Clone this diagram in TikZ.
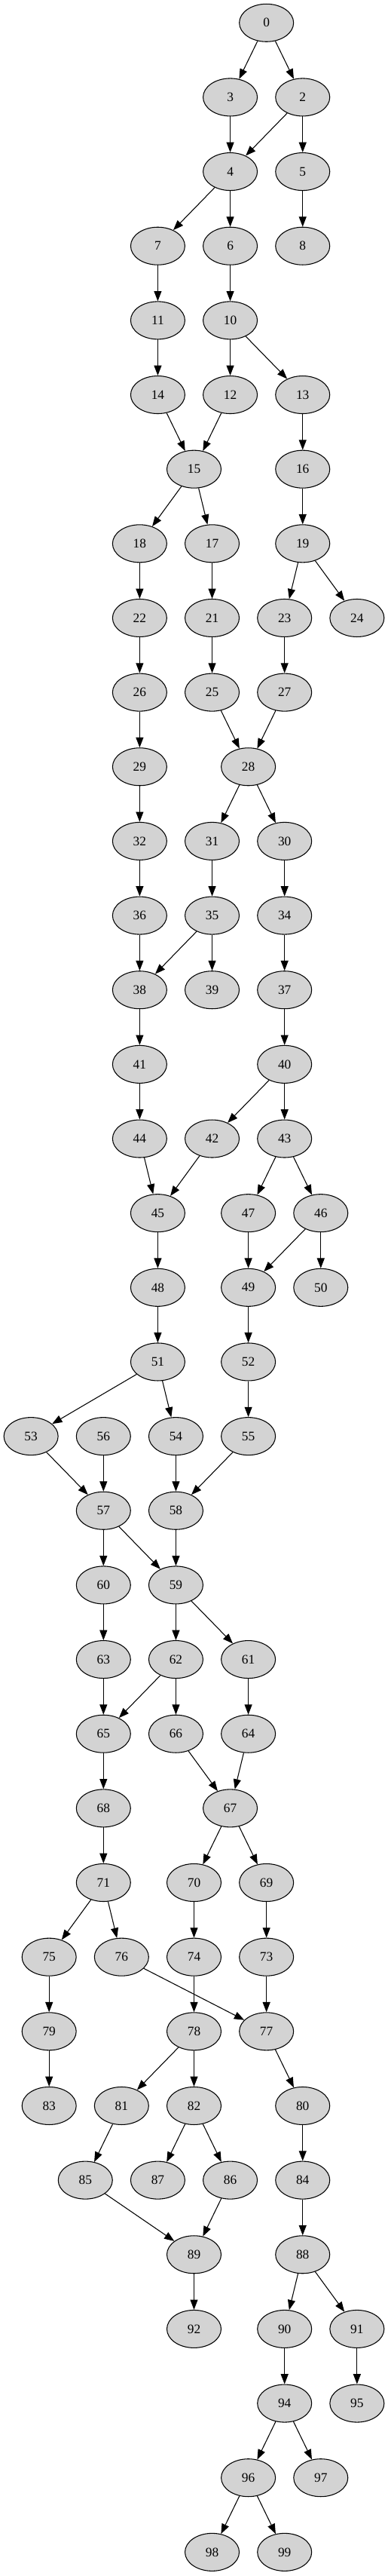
\documentclass[tikz,border=0pt]{standalone}
\usepackage{fontspec}
\setmainfont{Liberation Serif}
\usepackage{tikz}
\usetikzlibrary{arrows.meta}
\usetikzlibrary{shapes.geometric}
\definecolor{nodegray}{HTML}{D3D3D3}
\tikzset{
    state/.style={
           ellipse,
           draw=black, line width=0.8pt,
           fill=nodegray,
           minimum width=54pt,
           minimum height=37.5pt,
           inner sep=0pt,
           font=\fontsize{13}{15}\selectfont,
           text centered,
           },
}

\begin{document}
\begin{tikzpicture}[->,>={Triangle[length=10pt,width=7.5pt]},
                    line width=0.8pt, x=18.03pt, y=-73.99pt]

 % keep the margins of the reference
 \useasboundingbox (-1.712,-0.307) rectangle (19.711,34.321);

 % ranks 0 - 5
 \node[state] (N0) at (13,0) {0};
 \node[state] (N3) at (11,1) {3};
 \node[state] (N2) at (15,1) {2};
 \node[state] (N4) at (11,2) {4};
 \node[state] (N5) at (15,2) {5};
 \node[state] (N7) at (7,3) {7};
 \node[state] (N6) at (11,3) {6};
 \node[state] (N8) at (15,3) {8};
 \node[state] (N11) at (7,4) {11};
 \node[state] (N10) at (11,4) {10};
 \node[state] (N14) at (7,5) {14};
 \node[state] (N12) at (11,5) {12};
 \node[state] (N13) at (15,5) {13};

 % ranks 6 - 11
 \node[state] (N15) at (9,6) {15};
 \node[state] (N16) at (15,6) {16};
 \node[state] (N18) at (6,7) {18};
 \node[state] (N17) at (10,7) {17};
 \node[state] (N19) at (15,7) {19};
 \node[state] (N22) at (6,8) {22};
 \node[state] (N21) at (10,8) {21};
 \node[state] (N23) at (14,8) {23};
 \node[state] (N24) at (18,8) {24};
 \node[state] (N26) at (6,9) {26};
 \node[state] (N25) at (10,9) {25};
 \node[state] (N27) at (14,9) {27};
 \node[state] (N29) at (6,10) {29};
 \node[state] (N28) at (12,10) {28};
 \node[state] (N32) at (6,11) {32};
 \node[state] (N31) at (10,11) {31};
 \node[state] (N30) at (14,11) {30};

 % ranks 12 - 17
 \node[state] (N36) at (6,12) {36};
 \node[state] (N35) at (10,12) {35};
 \node[state] (N34) at (14,12) {34};
 \node[state] (N38) at (6,13) {38};
 \node[state] (N39) at (10,13) {39};
 \node[state] (N37) at (14,13) {37};
 \node[state] (N41) at (6,14) {41};
 \node[state] (N40) at (14,14) {40};
 \node[state] (N44) at (6,15) {44};
 \node[state] (N42) at (10,15) {42};
 \node[state] (N43) at (14,15) {43};
 \node[state] (N45) at (7,16) {45};
 \node[state] (N47) at (12,16) {47};
 \node[state] (N46) at (16,16) {46};
 \node[state] (N48) at (7,17) {48};
 \node[state] (N49) at (12,17) {49};
 \node[state] (N50) at (16,17) {50};

 % ranks 18 - 23
 \node[state] (N51) at (7,18) {51};
 \node[state] (N52) at (12,18) {52};
 \node[state] (N53) at (0,19) {53};
 \node[state] (N56) at (4,19) {56};
 \node[state] (N54) at (8,19) {54};
 \node[state] (N55) at (12,19) {55};
 \node[state] (N57) at (4,20) {57};
 \node[state] (N58) at (8,20) {58};
 \node[state] (N60) at (4,21) {60};
 \node[state] (N59) at (8,21) {59};
 \node[state] (N63) at (4,22) {63};
 \node[state] (N62) at (8,22) {62};
 \node[state] (N61) at (12,22) {61};
 \node[state] (N65) at (4,23) {65};
 \node[state] (N66) at (8,23) {66};
 \node[state] (N64) at (12,23) {64};

 % ranks 24 - 29
 \node[state] (N68) at (4,24) {68};
 \node[state] (N67) at (11,24) {67};
 \node[state] (N71) at (4,25) {71};
 \node[state] (N70) at (9,25) {70};
 \node[state] (N69) at (13,25) {69};
 \node[state] (N75) at (1,26) {75};
 \node[state] (N76) at (5,26) {76};
 \node[state] (N74) at (9,26) {74};
 \node[state] (N73) at (13,26) {73};
 \node[state] (N79) at (1,27) {79};
 \node[state] (N78) at (9,27) {78};
 \node[state] (N77) at (13,27) {77};
 \node[state] (N83) at (1,28) {83};
 \node[state] (N81) at (5,28) {81};
 \node[state] (N82) at (9,28) {82};
 \node[state] (N80) at (15,28) {80};
 \node[state] (N85) at (3,29) {85};
 \node[state] (N87) at (7,29) {87};
 \node[state] (N86) at (11,29) {86};
 \node[state] (N84) at (15,29) {84};

 % ranks 30 - 34
 \node[state] (N89) at (9,30) {89};
 \node[state] (N88) at (15,30) {88};
 \node[state] (N92) at (9,31) {92};
 \node[state] (N90) at (14,31) {90};
 \node[state] (N91) at (18,31) {91};
 \node[state] (N94) at (14,32) {94};
 \node[state] (N95) at (18,32) {95};
 \node[state] (N96) at (12,33) {96};
 \node[state] (N97) at (16,33) {97};
 \node[state] (N98) at (10,34) {98};
 \node[state] (N99) at (14,34) {99};

 % draw the paths
 \path (N0) edge (N3)  (N0) edge (N2)
 (N3) edge (N4)   (N2) edge (N4)   (N2) edge (N5)
 (N4) edge (N7)   (N4) edge (N6)   (N5) edge (N8)
 (N7) edge (N11)  (N6) edge (N10)
 (N11) edge (N14) (N10) edge (N12) (N10) edge (N13)
 (N14) edge (N15) (N12) edge (N15) (N13) edge (N16)
 (N15) edge (N18) (N15) edge (N17) (N16) edge (N19)
 (N18) edge (N22) (N17) edge (N21) (N19) edge (N23) (N19) edge (N24)
 (N22) edge (N26) (N21) edge (N25) (N23) edge (N27)
 (N26) edge (N29) (N25) edge (N28) (N27) edge (N28)
 (N29) edge (N32) (N28) edge (N31) (N28) edge (N30)
 (N32) edge (N36) (N31) edge (N35) (N30) edge (N34)
 (N36) edge (N38) (N35) edge (N38) (N35) edge (N39) (N34) edge (N37)
 (N38) edge (N41) (N37) edge (N40)
 (N41) edge (N44) (N40) edge (N42) (N40) edge (N43)
 (N44) edge (N45) (N42) edge (N45) (N43) edge (N47) (N43) edge (N46)
 (N45) edge (N48) (N47) edge (N49) (N46) edge (N49) (N46) edge (N50)
 (N48) edge (N51) (N49) edge (N52)
 (N51) edge (N53) (N51) edge (N54) (N52) edge (N55)
 (N53) edge (N57) (N56) edge (N57) (N54) edge (N58) (N55) edge (N58)
 (N57) edge (N60) (N57) edge (N59) (N58) edge (N59)
 (N60) edge (N63) (N59) edge (N62) (N59) edge (N61)
 (N63) edge (N65) (N62) edge (N65) (N62) edge (N66) (N61) edge (N64)
 (N65) edge (N68) (N66) edge (N67) (N64) edge (N67)
 (N68) edge (N71) (N67) edge (N70) (N67) edge (N69)
 (N71) edge (N75) (N71) edge (N76) (N70) edge (N74) (N69) edge (N73)
 (N75) edge (N79) (N76) edge (N77) (N74) edge (N78) (N73) edge (N77)
 (N79) edge (N83) (N78) edge (N81) (N78) edge (N82) (N77) edge (N80)
 (N81) edge (N85) (N82) edge (N87) (N82) edge (N86) (N80) edge (N84)
 (N85) edge (N89) (N86) edge (N89) (N84) edge (N88)
 (N89) edge (N92) (N88) edge (N90) (N88) edge (N91)
 (N90) edge (N94) (N91) edge (N95)
 (N94) edge (N96) (N94) edge (N97)
 (N96) edge (N98) (N96) edge (N99);

\end{tikzpicture}
\end{document}
